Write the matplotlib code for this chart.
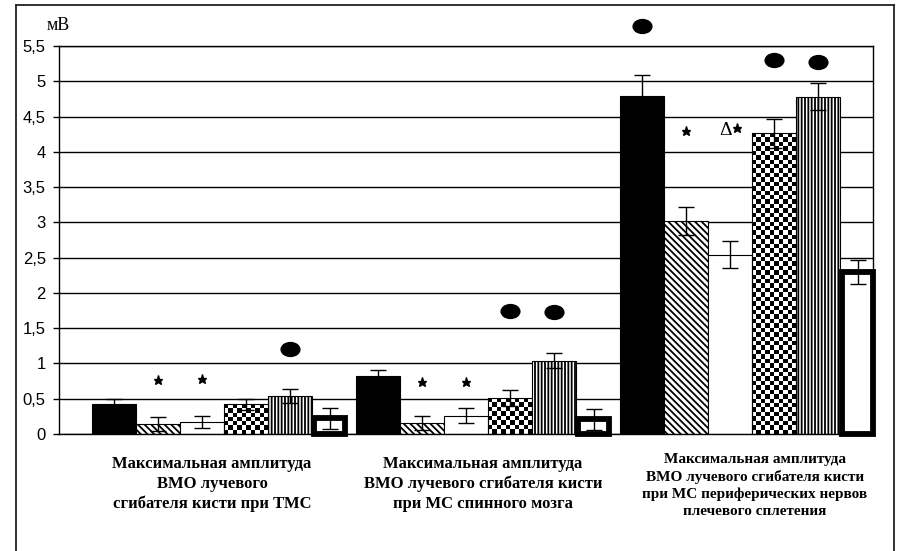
import numpy as np
import matplotlib
matplotlib.use("Agg")
import matplotlib.pyplot as plt
from matplotlib.lines import Line2D
from matplotlib.path import Path
from matplotlib.transforms import Affine2D, offset_copy

# ----------------------------
# DATA
# ----------------------------
group_labels = [
    "Максимальная амплитуда\nВМО лучевого\nсгибателя кисти при ТМС",
    "Максимальная амплитуда\nВМО лучевого сгибателя кисти\nпри МС спинного мозга",
    "Максимальная амплитуда\nВМО лучевого сгибателя кисти\nпри МС периферических нервов\nплечевого сплетения",
]

black_vals = [0.42, 0.82, 4.79]
hatched_vals = [0.14, 0.15, 3.02]
white_vals = [0.17, 0.26, 2.54]
checker_vals = [0.42, 0.51, 4.26]
stripes_vals = [0.54, 1.04, 4.78]
thick_vals = [0.22, 0.21, 2.30]

black_err = [0.08, 0.09, 0.30]
hatched_err = [0.10, 0.10, 0.20]
white_err = [0.09, 0.11, 0.19]
checker_err = [0.08, 0.11, 0.20]
stripes_err = [0.10, 0.11, 0.19]
thick_err = [0.15, 0.15, 0.17]

# significance marks: (group index, series index, value)
dot_marks = [(0, 4, 1.20), (1, 3, 1.74), (1, 4, 1.73),
             (2, 0, 5.79), (2, 3, 5.30), (2, 4, 5.28)]
star_marks = [(0, 1, 0.77), (0, 2, 0.78), (1, 1, 0.74), (1, 2, 0.74),
              (2, 1, 4.29)]
delta_star_marks = [(2, 2, 4.30)]

y_ticks = [0, 0.5, 1, 1.5, 2, 2.5, 3, 3.5, 4, 4.5, 5, 5.5]
y_tick_labels = ["0", "0,5", "1", "1,5", "2", "2,5", "3", "3,5", "4", "4,5", "5", "5,5"]

# ----------------------------
# FIGURE
# ----------------------------
W, H = 899, 551
fig = plt.figure(figsize=(W / 100, H / 100), dpi=100)
plt.rcParams['hatch.linewidth'] = 1.3
ax = fig.add_axes([59 / W, 1 - 434 / H, 814 / W, 388 / H])

XMIN, XMAX = -0.625, 2.458
ax.set_xlim(XMIN, XMAX)
ax.set_ylim(0, 5.5)

slot = 1 / 6
groups = np.arange(len(group_labels))


def slot_center(series_idx):
    return groups + (series_idx - 2.5) * slot


def checker_fill(ax, patch, cell_px=4.4):
    """Fill a bar with a black/white checkerboard (no such hatch in matplotlib)."""
    x0, y0 = patch.get_x(), patch.get_y()
    w, h = patch.get_width(), patch.get_height()
    (px0, py0), (px1, py1) = ax.transData.transform([(x0, y0), (x0 + w, y0 + h)])
    ncol = max(1, int(round((px1 - px0) / cell_px)))
    nrow = max(1, int(round((py1 - py0) / cell_px)))
    board = np.indices((nrow, ncol)).sum(axis=0) % 2
    im = ax.imshow(board, cmap='gray', vmin=0, vmax=1, extent=(x0, x0 + w, y0, y0 + h),
                   origin='upper', interpolation='nearest', aspect='auto', zorder=1.9)
    im.set_clip_path(patch)


ax.set_axisbelow(True)
ax.yaxis.grid(True, color='black', linewidth=1.0)

bar_kw = dict(width=slot, edgecolor='black', linewidth=0.8, zorder=2)
ax.bar(slot_center(0), black_vals, color='black', **bar_kw)
ax.bar(slot_center(1), hatched_vals, color='white', hatch='\\\\\\\\\\', **bar_kw)
ax.bar(slot_center(2), white_vals, color='white', **bar_kw)
checker_bars = ax.bar(slot_center(3), checker_vals, color='none', **bar_kw)
ax.bar(slot_center(4), stripes_vals, color='white', hatch='|||||', **bar_kw)

# thick-outlined bar, slightly narrower than its slot
thick_left = groups + 2 * slot + 0.008
thick_w = 0.118
ax.bar(thick_left, thick_vals, width=thick_w, align='edge', color='white',
       edgecolor='black', linewidth=4.2, zorder=2, clip_on=False)

for p in checker_bars:
    checker_fill(ax, p)

# error bars
err_kw = dict(fmt='none', ecolor='black', elinewidth=1.0, capsize=6, capthick=1.0, zorder=3)
for i, (vals, errs) in enumerate([(black_vals, black_err), (hatched_vals, hatched_err),
                                  (white_vals, white_err), (checker_vals, checker_err),
                                  (stripes_vals, stripes_err)]):
    ax.errorbar(slot_center(i), vals, yerr=errs, **err_kw)
ax.errorbar(thick_left + thick_w / 2, thick_vals, yerr=thick_err, **err_kw)

# significance marks
ellipse = Path.unit_circle().transformed(Affine2D().scale(1.0, 0.74))
for g, s, v in dot_marks:
    ax.plot(g + (s - 2.5) * slot, v, linestyle='none', marker=ellipse, markersize=13.5,
            color='black', clip_on=False, zorder=5)
for g, s, v in star_marks:
    ax.plot(g + (s - 2.5) * slot, v, linestyle='none', marker='*', markersize=6.5,
            color='black', zorder=5)
star_shift = offset_copy(ax.transData, fig=fig, x=7, y=3, units='dots')
for g, s, v in delta_star_marks:
    x = g + (s - 2.5) * slot
    ax.text(x, v, "Δ", transform=offset_copy(ax.transData, fig=fig, x=-5, y=0, units='dots'),
            ha='center', va='center', fontsize=14, family='Liberation Serif', zorder=5)
    ax.plot(x, v, linestyle='none', marker='*', markersize=6.5, color='black',
            transform=star_shift, zorder=5)

# axes styling
ax.set_xticks([])
ax.set_yticks(y_ticks)
ax.set_yticklabels(y_tick_labels, family='Liberation Sans', fontsize=12)
ax.tick_params(axis='y', direction='out', length=4.5, width=1.0, pad=5, colors='black')
for side in ['left', 'right', 'top', 'bottom']:
    ax.spines[side].set_color('black')
    ax.spines[side].set_linewidth(1.0)

ax.set_xlim(XMIN, XMAX)
ax.set_ylim(0, 5.5)

# unit label
fig.text(58 / W, 1 - 25 / H, "мВ", ha='center', va='center', fontsize=13,
         family='Liberation Serif')

# category labels under the groups
label_x = [212, 483, 755]
label_top = [456, 456, 453]
label_size = [12, 12, 11]
label_spacing = [1.3, 1.3, 1.35]
for lx, ly, fs, ls, txt in zip(label_x, label_top, label_size, label_spacing, group_labels):
    fig.text(lx / W, 1 - ly / H, txt, ha='center', va='top', multialignment='center',
             fontsize=fs, family='Liberation Serif', fontweight='bold', linespacing=ls)

# outer frame (open at the bottom)
frame_kw = dict(color='#222222', linewidth=1.3, transform=fig.transFigure)
fig.add_artist(Line2D([16 / W, 16 / W], [0, 1 - 5 / H], **frame_kw))
fig.add_artist(Line2D([16 / W, 894 / W], [1 - 5 / H, 1 - 5 / H], **frame_kw))
fig.add_artist(Line2D([894 / W, 894 / W], [0, 1 - 5 / H], **frame_kw))

fig.savefig("out.png", dpi=100)
